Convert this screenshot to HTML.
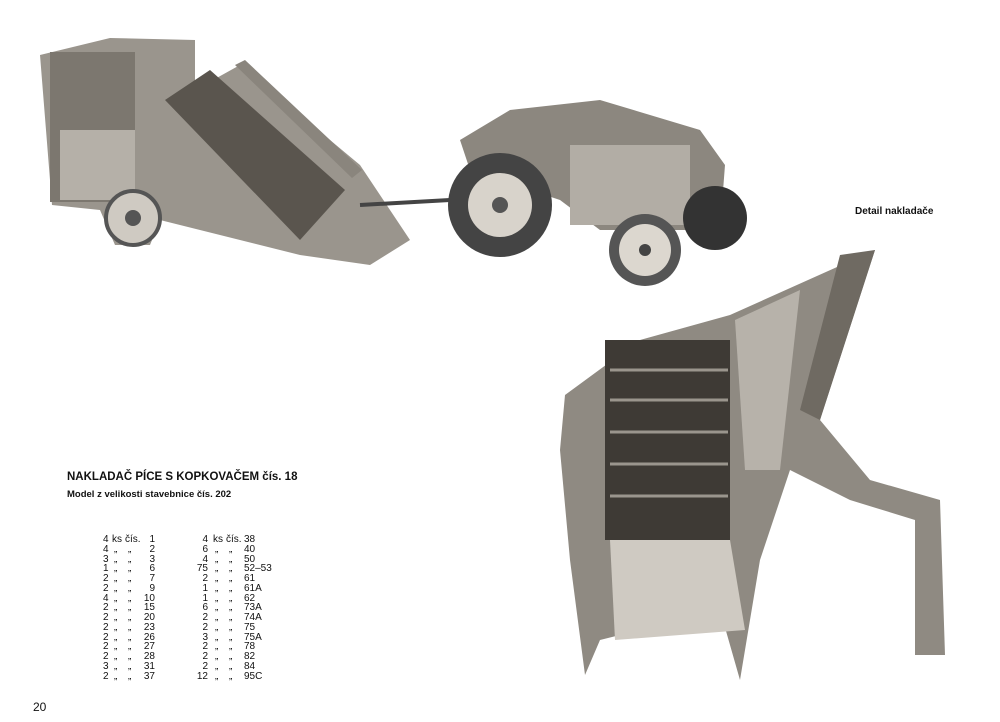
<!DOCTYPE html>
<html><head><meta charset="utf-8"><style>
body{margin:0;width:1000px;height:722px;background:#fff;position:relative;overflow:hidden;font-family:"Liberation Sans",sans-serif;color:#111}
.t{position:absolute;white-space:nowrap}
.row{position:absolute;left:0;width:1000px;height:10px;font-size:10px;line-height:10px}
.row span{position:absolute;white-space:nowrap}
</style></head><body>
<svg width="1000" height="722" style="position:absolute;left:0;top:0">
 <polygon points="40,55 110,38 195,40 195,90 240,65 360,165 410,240 370,265 300,255 160,220 150,245 115,245 100,210 52,205" fill="#9a958d"/>
 <rect x="50" y="52" width="85" height="150" fill="#7c776f"/>
 <rect x="60" y="130" width="75" height="70" fill="#b5b0a8"/>
 <polygon points="165,100 210,70 345,190 300,240" fill="#5a554e"/>
 <polygon points="235,65 245,60 362,170 352,178" fill="#8a857d"/>
 <circle cx="133" cy="218" r="27" fill="#cfcac2" stroke="#555" stroke-width="4"/>
 <circle cx="133" cy="218" r="8" fill="#555"/>
 <line x1="360" y1="205" x2="450" y2="200" stroke="#444" stroke-width="4"/>
 <polygon points="460,140 510,110 600,100 700,130 725,165 720,230 600,230 560,200 470,170" fill="#8c877f"/>
 <rect x="570" y="145" width="120" height="80" fill="#b2ada5"/>
 <circle cx="500" cy="205" r="52" fill="#444"/>
 <circle cx="500" cy="205" r="32" fill="#d8d3cb"/>
 <circle cx="500" cy="205" r="8" fill="#555"/>
 <circle cx="715" cy="218" r="32" fill="#333"/>
 <circle cx="645" cy="250" r="36" fill="#555"/>
 <circle cx="645" cy="250" r="26" fill="#dcd7cf"/>
 <circle cx="645" cy="250" r="6" fill="#444"/>
 <polygon points="565,395 640,340 730,315 875,250 820,420 870,480 940,500 945,655 915,655 915,520 850,500 790,470 760,560 740,680 720,610 600,640 585,675 570,560 560,450" fill="#8f8a82"/>
 <rect x="605" y="340" width="125" height="200" fill="#3e3a35"/>
 <g stroke="#9a958d" stroke-width="3">
  <line x1="610" y1="370" x2="728" y2="370"/><line x1="610" y1="400" x2="728" y2="400"/>
  <line x1="610" y1="432" x2="728" y2="432"/><line x1="610" y1="464" x2="728" y2="464"/>
  <line x1="610" y1="496" x2="728" y2="496"/>
 </g>
 <polygon points="610,540 730,540 745,630 615,640" fill="#cfcac2"/>
 <polygon points="735,320 800,290 780,470 745,470" fill="#b7b2aa"/>
 <polygon points="840,255 875,250 820,420 800,410" fill="#6f6a62"/>
</svg>
<div class="t" style="left:855px;top:206px;font-size:10px;font-weight:bold">Detail nakladače</div>
<div class="t" style="left:67px;top:471px;font-size:11.5px;font-weight:bold">NAKLADAČ PÍCE S KOPKOVAČEM čís. 18</div>
<div class="t" style="left:67px;top:489px;font-size:9.5px;font-weight:bold">Model z velikosti stavebnice čís. 202</div>
<div class="t" style="left:33px;top:700px;font-size:12px">20</div>
<div id="rows"></div>
<script>
var L=[["4","1"],["4","2"],["3","3"],["1","6"],["2","7"],["2","9"],["4","10"],["2","15"],["2","20"],["2","23"],["2","26"],["2","27"],["2","28"],["3","31"],["2","37"]];
var R=[["4","38"],["6","40"],["4","50"],["75","52–53"],["2","61"],["1","61A"],["1","62"],["6","73A"],["2","74A"],["2","75"],["3","75A"],["2","78"],["2","82"],["2","84"],["12","95C"]];
var h="";
function mid(x1,x2,i){return i==0?'<span style="left:'+x1+'px">ks</span><span style="left:'+(x2-3)+'px">čís.</span>':'<span style="left:'+(x1+2)+'px">„</span><span style="left:'+x2+'px">„</span>';}
for(var i=0;i<15;i++){var y=535+i*9.75;
h+='<div class="row" style="top:'+y+'px"><span style="left:103px">'+L[i][0]+'</span>'+mid(112,128,i)+'<span style="right:'+(1000-155)+'px">'+L[i][1]+'</span>';
h+='<span style="right:'+(1000-208)+'px">'+R[i][0]+'</span>'+mid(213,229,i)+'<span style="left:244px">'+R[i][1]+'</span></div>';}
document.getElementById("rows").innerHTML=h;
</script>
</body></html>
